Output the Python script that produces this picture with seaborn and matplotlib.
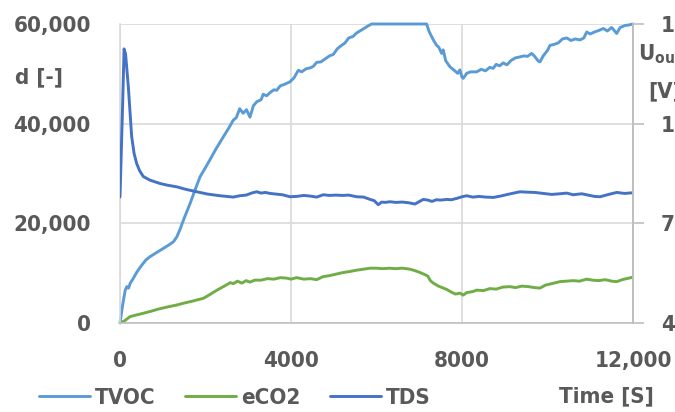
import matplotlib
matplotlib.use("Agg")
import matplotlib.pyplot as plt
import numpy as np
import pandas as pd
import seaborn as sns

# TVOC response, left axis d [-]
tvoc_t = [0, 60, 120, 160, 200, 240, 300, 400, 500, 600, 700, 850, 1000, 1150, 1250, 1330,
          1400, 1500, 1640, 1760, 1870, 2000, 2100, 2250, 2420, 2550, 2650, 2720, 2800, 2880,
          2960, 3040, 3120, 3200, 3300, 3350, 3430, 3520, 3600, 3665, 3750, 3850, 3977, 4070,
          4170, 4250, 4350, 4450, 4522, 4600, 4700, 4800, 4900, 4990, 5080, 5150, 5263, 5350,
          5450, 5535, 5650, 5800, 5885, 7173, 7230, 7330, 7400, 7460, 7524, 7560, 7620, 7720,
          7820, 7900, 7950, 8000, 8030, 8110, 8200, 8343, 8450, 8550, 8650, 8730, 8800, 8880,
          8965, 9050, 9150, 9250, 9357, 9450, 9530, 9630, 9700, 9780, 9825, 9900, 10000, 10058,
          10150, 10250, 10350, 10448, 10550, 10650, 10760, 10850, 10916, 11000, 11100, 11200,
          11306, 11400, 11500, 11580, 11618, 11700, 11813, 11900, 12000]
tvoc_v = [0, 3500, 6500, 7300, 7000, 8000, 8800, 10300, 11500, 12600, 13300, 14100, 14900,
          15700, 16300, 17300, 18700, 21000, 24000, 26800, 29300, 31200, 32700, 35000, 37400,
          39200, 40700, 41200, 43000, 42100, 42800, 41300, 43600, 44400, 44800, 45900, 45600,
          46300, 46800, 46700, 47600, 47900, 48400, 49200, 50700, 50400, 51000, 51200, 51500,
          52300, 52400, 53000, 53600, 53900, 55000, 55500, 56200, 57200, 57500, 58200, 58800,
          59600, 60000, 60000, 58500, 56800, 55800, 55300, 54100, 54800, 52600, 51400, 50700,
          50100, 50800, 49300, 49100, 50100, 50400, 50400, 50900, 50600, 51300, 51100, 51900,
          51600, 52200, 51800, 52700, 53200, 53400, 53600, 53500, 54100, 53500, 52600, 52400,
          53600, 54700, 55700, 55900, 56200, 57000, 57200, 56700, 57000, 56800, 57200, 58400,
          58000, 58400, 58700, 59100, 58600, 59300, 58500, 58100, 59300, 59700, 59800, 60000]

# eCO2 response, left axis d [-]
eco2_t = [0, 100, 234, 400, 545, 700, 900, 1100, 1326, 1500, 1700, 1950, 2100, 2250, 2417,
          2500, 2580, 2650, 2750, 2850, 2950, 3040, 3150, 3300, 3450, 3600, 3750, 3900, 4000,
          4130, 4300, 4450, 4600, 4750, 4900, 5050, 5200, 5350, 5535, 5700, 5850, 6000, 6150,
          6300, 6450, 6600, 6784, 6900, 7000, 7134, 7200, 7260, 7330, 7450, 7564, 7650, 7750,
          7850, 7950, 8030, 8110, 8250, 8343, 8500, 8650, 8800, 8950, 9123, 9250, 9400, 9550,
          9700, 9825, 9950, 10100, 10290, 10450, 10600, 10750, 10916, 11050, 11200, 11350,
          11500, 11618, 11750, 11900, 12000]
eco2_v = [0, 400, 1270, 1650, 1950, 2300, 2800, 3200, 3610, 4000, 4400, 4950, 5700, 6500,
          7300, 7700, 8100, 7900, 8400, 8000, 8500, 8200, 8600, 8600, 8900, 8800, 9100, 9000,
          8800, 9100, 8800, 8900, 8700, 9300, 9500, 9800, 10100, 10300, 10600, 10800, 11000,
          11000, 10900, 11000, 10900, 11000, 10800, 10500, 10200, 9700, 9400, 8500, 8000, 7400,
          7000, 6700, 6200, 5800, 6000, 5600, 6100, 6300, 6600, 6500, 6900, 6800, 7200, 7300,
          7100, 7400, 7300, 7100, 7000, 7600, 7900, 8300, 8400, 8500, 8400, 8800, 8600, 8500,
          8700, 8400, 8300, 8700, 9000, 9200]

# TDS sensor output, right axis U_out [V]
tds_t = [0, 60, 95, 130, 195, 273, 330, 390, 460, 545, 700, 935, 1100, 1325, 1550, 1795, 2050,
         2340, 2500, 2650, 2800, 2950, 3100, 3200, 3300, 3400, 3510, 3650, 3800, 3977, 4130,
         4300, 4450, 4600, 4755, 4900, 5050, 5200, 5350, 5535, 5700, 5850, 5950, 6040, 6120,
         6200, 6315, 6450, 6600, 6750, 6900, 6980, 7095, 7200, 7300, 7400, 7500, 7650, 7750,
         7875, 8000, 8110, 8250, 8400, 8550, 8730, 8900, 9100, 9355, 9500, 9700, 9900, 10100,
         10290, 10450, 10600, 10800, 10950, 11100, 11230, 11400, 11620, 11800, 12000]
tds_v = [7.79, 10.5, 12.25, 12.1, 11.11, 9.61, 9.1, 8.8, 8.58, 8.41, 8.3, 8.2, 8.15, 8.10,
         8.02, 7.95, 7.88, 7.83, 7.81, 7.79, 7.83, 7.85, 7.92, 7.95, 7.91, 7.93, 7.90, 7.88,
         7.86, 7.80, 7.81, 7.84, 7.82, 7.79, 7.86, 7.84, 7.85, 7.84, 7.85, 7.80, 7.79, 7.72,
         7.68, 7.56, 7.64, 7.63, 7.65, 7.63, 7.64, 7.62, 7.58, 7.64, 7.72, 7.70, 7.66, 7.71,
         7.70, 7.72, 7.71, 7.75, 7.80, 7.83, 7.79, 7.81, 7.79, 7.78, 7.82, 7.88, 7.95, 7.94,
         7.93, 7.90, 7.87, 7.89, 7.91, 7.86, 7.89, 7.85, 7.81, 7.80, 7.86, 7.93, 7.90, 7.92]

x_ticks = [0, 4000, 8000, 12000]
x_tick_labels = ["0", "4000", "8000", "12,000"]
left_ticks = [0, 20000, 40000, 60000]
left_tick_labels = ["0", "20,000", "40,000", "60,000"]
right_ticks = [4, 7, 10, 13]

series_names = ["TVOC", "eCO2", "TDS"]
series_colors = ["#5B9BD5", "#70AD47", "#4472C4"]

sns.set_theme(style="white")
plt.rcParams["font.family"] = ["DejaVu Sans"]
plt.rcParams["font.stretch"] = "condensed"
plt.rcParams["mathtext.fontset"] = "dejavusans"

TXT = "#595959"
GRID = "#D9D9D9"
AXC = "#BFBFBF"
FS = 16
LW = 2.1

fig = plt.figure(figsize=(6.75, 4.12), dpi=100)
ax = fig.add_axes([120 / 675, 1 - 323 / 412, 513 / 675, 299 / 412])

df_tvoc = pd.DataFrame({"t": tvoc_t, "v": tvoc_v})
df_eco2 = pd.DataFrame({"t": eco2_t, "v": eco2_v})
df_tds = pd.DataFrame({"t": tds_t, "v": tds_v})

sns.lineplot(data=df_tvoc, x="t", y="v", ax=ax, color=series_colors[0], lw=LW,
             estimator=None, sort=False, clip_on=False)
sns.lineplot(data=df_eco2, x="t", y="v", ax=ax, color=series_colors[1], lw=LW,
             estimator=None, sort=False)

ax.set_xlim(0, 12000)
ax.set_ylim(0, 60000)
ax.set_xticks(x_ticks)
ax.set_xticklabels(x_tick_labels)
ax.set_yticks(left_ticks)
ax.set_yticklabels(left_tick_labels)
ax.set_xlabel("")
ax.set_ylabel("")
ax.grid(True, color=GRID, lw=1.2)
ax.set_axisbelow(True)
ax.tick_params(axis="x", length=0, pad=20, labelsize=FS, labelcolor=TXT)
ax.tick_params(axis="y", length=0, pad=21, labelsize=FS, labelcolor=TXT)
for lab in ax.get_xticklabels() + ax.get_yticklabels():
    lab.set_fontweight("bold")
for side in ["top", "right"]:
    ax.spines[side].set_visible(False)
ax.spines["left"].set_color(GRID)
ax.spines["left"].set_linewidth(1.2)
ax.spines["bottom"].set_color(AXC)
ax.spines["bottom"].set_linewidth(1.2)

ax2 = ax.twinx()
sns.lineplot(data=df_tds, x="t", y="v", ax=ax2, color=series_colors[2], lw=LW,
             estimator=None, sort=False)
ax2.set_ylim(4, 13)
ax2.set_yticks(right_ticks)
ax2.set_ylabel("")
ax2.tick_params(axis="y", length=8, width=1.2, color=AXC, pad=12,
                labelsize=FS, labelcolor=TXT)
for lab in ax2.get_yticklabels():
    lab.set_fontweight("bold")
for side in ["top", "left", "bottom"]:
    ax2.spines[side].set_visible(False)
ax2.spines["right"].set_color(AXC)
ax2.spines["right"].set_linewidth(1.4)

# axis captions
fig.text(15 / 675, 1 - 77 / 412, "d [-]", fontsize=FS, fontweight="bold", color=TXT,
         ha="left", va="center")
fig.text(638 / 675, 1 - 54 / 412, r"U$_{\mathregular{out}}$", fontsize=FS,
         fontweight="bold", color=TXT, ha="left", va="center")
fig.text(648 / 675, 1 - 91 / 412, "[V]", fontsize=FS, fontweight="bold", color=TXT,
         ha="left", va="center")
fig.text(606 / 675, 1 - 396 / 412, "Time [S]", fontsize=FS, fontweight="bold", color=TXT,
         ha="center", va="center")

handles = [plt.Line2D([], [], color=c, lw=LW) for c in series_colors]
leg = fig.legend(handles, series_names, loc="center left",
                 bbox_to_anchor=(39 / 675, 1 - 398 / 412), ncol=3, frameon=False,
                 borderpad=0, borderaxespad=0, handlelength=2.3, handletextpad=0.2,
                 columnspacing=1.35, prop={"size": FS, "weight": "bold"})
for t in leg.get_texts():
    t.set_color(TXT)

fig.savefig("out.png", dpi=100)
